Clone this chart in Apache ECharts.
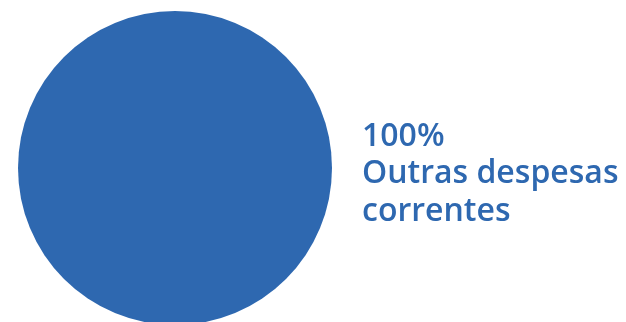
<!DOCTYPE html>
<html>
<head>
<meta charset="utf-8">
<script src="https://cdn.jsdelivr.net/npm/echarts@6/dist/echarts.min.js"></script>
<style>html,body{margin:0;padding:0;background:#fff;}#c{width:626px;height:322px;}</style>
</head>
<body>
<div id="c"></div>
<script>
var categories = ['Outras despesas\ncorrentes'];
var values = [100];
var colors = ['#2e68b0'];

var chart = echarts.init(document.getElementById('c'), null, {renderer: 'canvas'});
chart.setOption({
  animation: false,
  series: [{
    type: 'pie',
    center: [175, 168],
    radius: 157,
    startAngle: 180,
    clockwise: true,
    silent: true,
    label: {
      show: true,
      position: 'outside',
      formatter: function (p) { return p.percent + '%\n' + p.name; },
      color: '#2e68b0',
      fontFamily: 'Open Sans',
      fontWeight: 600,
      fontSize: 32,
      lineHeight: 37.5,
      align: 'left',
      overflow: 'none',
      edgeDistance: 0
    },
    labelLayout: { dy: 6 },
    labelLine: { show: false, length: 15, length2: 10 },
    itemStyle: { borderWidth: 0 },
    data: categories.map(function (c, i) {
      return { name: c, value: values[i], itemStyle: { color: colors[i] } };
    })
  }]
});
</script>
</body>
</html>
